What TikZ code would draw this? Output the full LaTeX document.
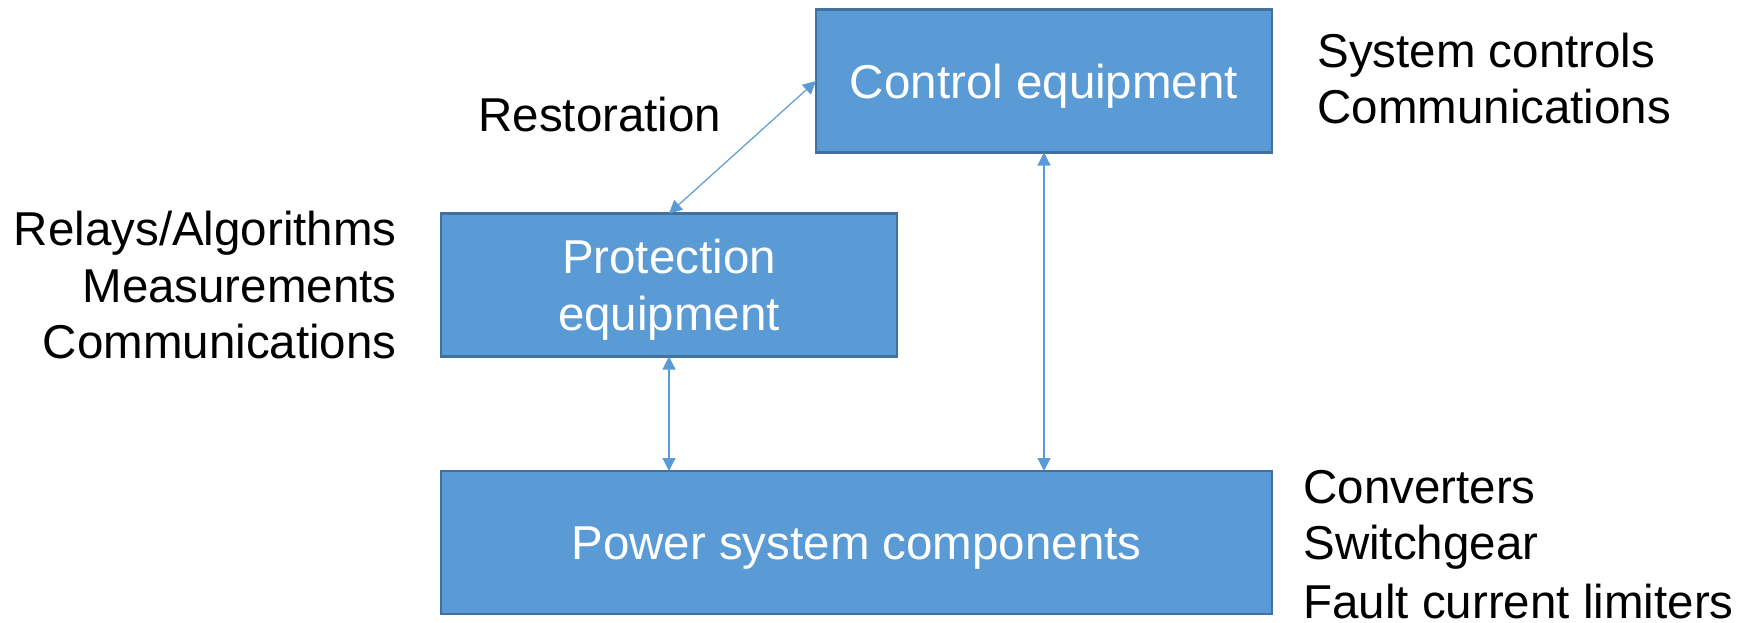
\documentclass[tikz,border=0pt]{standalone}
\usepackage{fontspec}
\setmainfont{Liberation Sans}
\usetikzlibrary{arrows.meta}
\definecolor{boxfill}{HTML}{5B9BD5}
\definecolor{boxline}{HTML}{41719C}
\tikzset{
  blockbox/.style={draw=boxline, line width=1.2pt, fill=boxfill, text=white,
    inner sep=0pt, outer sep=0pt, minimum height=143*0.5pt,
    font=\fontsize{23.75}{28.5}\selectfont, align=center},
  oneline/.style={text height=17pt, text depth=0pt},
  link/.style={draw=boxfill, line width=0.6pt,
    {Triangle[length=6.5pt,width=6.5pt]}-{Triangle[length=6.5pt,width=6.5pt]}},
  note/.style={inner sep=0pt, font=\fontsize{23.75}{28.5}\selectfont}
}
\begin{document}
\begin{tikzpicture}[x=0.5pt, y=-0.5pt]
  \useasboundingbox (0,0) rectangle (1750,622);

  % blocks
  \node[blockbox, oneline, minimum width=456*0.5pt] (ctrl) at (1044,81) {Control equipment};
  \node[blockbox, text depth=0pt, minimum width=456*0.5pt] (prot) at (669,285) {Protection\\equipment};
  \node[blockbox, oneline, minimum width=831*0.5pt] (power) at (856.5,542.5) {Power system components};

  % links between blocks
  \draw[link] (prot.north) -- (ctrl.west);
  \draw[link] (prot.south) -- (power.north -| prot.south);
  \draw[link] (ctrl.south) -- (power.north -| ctrl.south);

  % annotations
  \node[note, anchor=base west] (rest) at (478,131) {Restoration};

  \node[note, anchor=base east] (pl1) at (397,245) {Relays/Algorithms};
  \node[note, anchor=base east] (pl2) at (397,302) {Measurements};
  \node[note, anchor=base east] (pl3) at (397,358) {Communications};

  \node[note, anchor=base west] (cl1) at (1317,67) {System controls};
  \node[note, anchor=base west] (cl2) at (1317,123) {Communications};

  \node[note, anchor=base west] (sl1) at (1303,503) {Converters};
  \node[note, anchor=base west] (sl2) at (1303,559) {Switchgear};
  \node[note, anchor=base west, text depth=0pt] (sl3) at (1303,618) {Fault current limiters};
\end{tikzpicture}
\end{document}
